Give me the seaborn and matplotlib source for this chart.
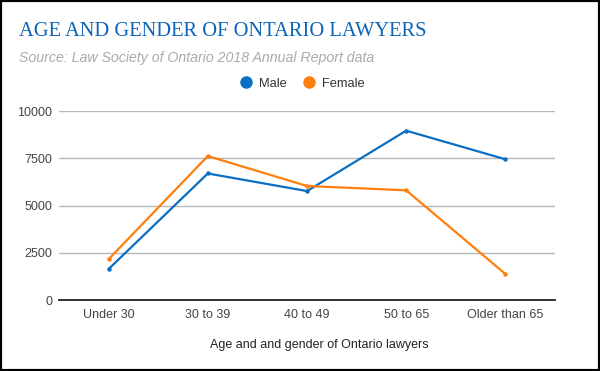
import matplotlib
matplotlib.use("Agg")
import matplotlib.pyplot as plt
import seaborn as sns
import pandas as pd
from matplotlib.lines import Line2D
from matplotlib.patches import Rectangle

categories = ["Under 30", "30 to 39", "40 to 49", "50 to 65", "Older than 65"]
male = [1650, 6700, 5770, 8960, 7450]
female = [2170, 7620, 6040, 5810, 1390]
yticks = [0, 2500, 5000, 7500, 10000]

df = pd.DataFrame({
    "Age": categories * 2,
    "Count": male + female,
    "Gender": ["Male"] * len(categories) + ["Female"] * len(categories),
})

sns.set_theme(style="white")
plt.rcParams['font.family'] = ['Liberation Sans', 'DejaVu Sans']

BLUE = "#0a6fc2"
ORANGE = "#ff7f0e"
palette = {"Male": BLUE, "Female": ORANGE}

fig = plt.figure(figsize=(6, 3.71), dpi=100)
ax = fig.add_axes([59/600, 1 - 300.3/371, (555-59)/600, (300.3-111)/371])

sns.lineplot(data=df, x="Age", y="Count", hue="Gender", palette=palette,
             marker="o", markersize=3.2, markeredgewidth=0, linewidth=1.6,
             sort=False, ax=ax, legend=False)

ax.set_xlim(-0.5, len(categories) - 0.5)
ax.set_ylim(0, 10000)
ax.set_yticks(yticks)
ax.set_yticklabels([str(t) for t in yticks])
ax.yaxis.grid(True, color="#b7b7b7", linewidth=1)
ax.set_axisbelow(True)
for s in ["top", "right", "left"]:
    ax.spines[s].set_visible(False)
ax.spines["bottom"].set_color("#222222")
ax.spines["bottom"].set_linewidth(1.3)
ax.spines["bottom"].set_zorder(5)
ax.tick_params(axis="both", length=0, labelsize=9, labelcolor="#444444")
ax.tick_params(axis="y", pad=5)
ax.tick_params(axis="x", pad=6)
ax.set_xlabel("")
ax.set_ylabel("")

fig.text(319/600, 1 - 345/371, "Age and and gender of Ontario lawyers",
         ha="center", va="center", fontsize=9, color="#222222")

fig.text(19/600, 1 - 32/371, "AGE AND GENDER OF ONTARIO LAWYERS",
         ha="left", va="center", fontsize=14.8, color="#0b64b8",
         family=["Liberation Serif", "DejaVu Serif"])
fig.text(19/600, 1 - 58/371, "Source: Law Society of Ontario 2018 Annual Report data",
         ha="left", va="center", fontsize=10.2, color="#aaaaaa", style="italic")

handles = [Line2D([], [], linestyle="none", marker="o", markersize=9, color=BLUE, markeredgewidth=0),
           Line2D([], [], linestyle="none", marker="o", markersize=9, color=ORANGE, markeredgewidth=0)]
fig.legend(handles, ["Male", "Female"], loc="center", bbox_to_anchor=(302/600, 1 - 84/371),
           ncol=2, frameon=False, fontsize=9.3, handletextpad=0.5, columnspacing=1.2,
           labelcolor="#333333", handlelength=1.0)

fig.patches.append(Rectangle((0, 0), 1, 1, transform=fig.transFigure, fill=False,
                             edgecolor="black", linewidth=3, zorder=10))

fig.savefig("out.png", dpi=100)
